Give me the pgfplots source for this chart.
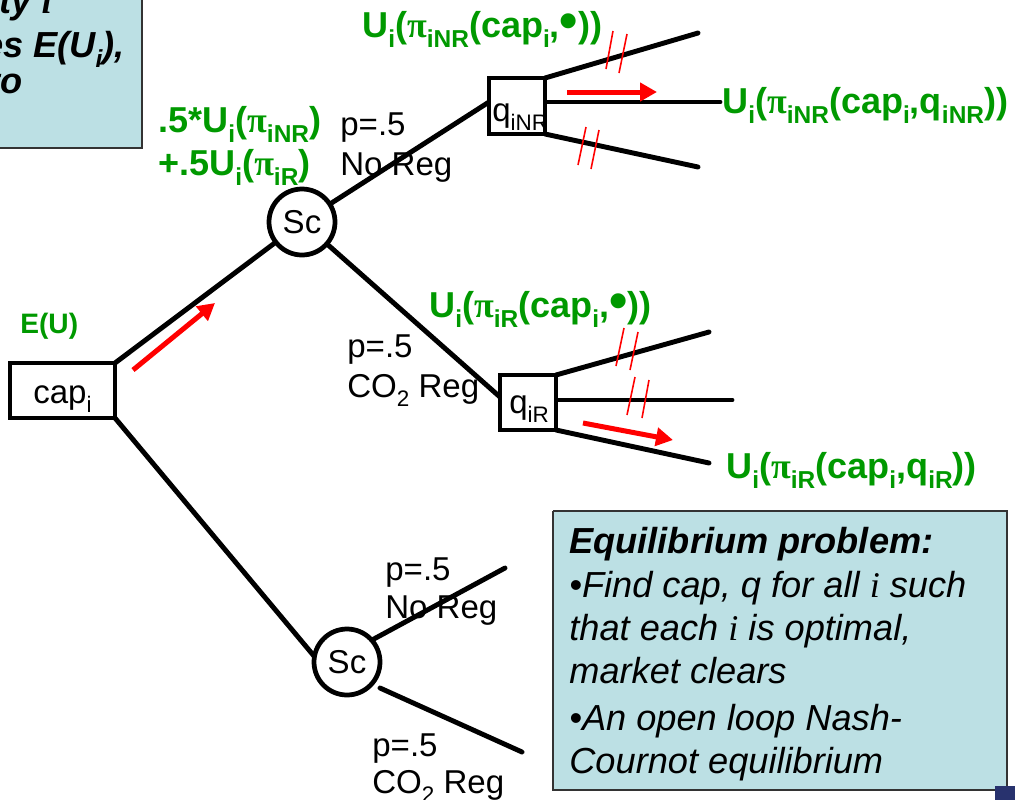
\documentclass[border=0pt]{standalone}
\usepackage{fontspec}
\setmainfont{Liberation Sans}
\newfontfamily\symf{Liberation Serif}
\usepackage{graphicx}
\usepackage{pgfplots}
\pgfplotsset{compat=1.18}
\usetikzlibrary{arrows.meta}

\definecolor{tgreen}{RGB}{0,153,0}
\definecolor{boxblue}{RGB}{188,224,228}
\definecolor{navybar}{RGB}{40,50,110}

% subscript, lowered and smaller
\newcommand\sub[1]{\raisebox{-.28em}{\scalebox{.68}{#1}}}
\newcommand\p{{\symf\upshape π}}
\newcommand\dotb{\raisebox{-.05em}{\scalebox{1.45}{\textbullet}}}
\newcommand\mi{{\symf\itshape i}}
\newcommand\gfont{\fontsize{20.5}{24}\selectfont\bfseries\color{tgreen}}
\newcommand\kfont{\fontsize{18.8}{22}\selectfont}
\newcommand\efont{\fontsize{20.6}{24.5}\selectfont\itshape}

\tikzset{
    tl/.style={black, line width=2.8pt, line cap=round},
    rarr/.style={red, line width=2.85pt, -{Triangle[length=0.34cm,width=0.36cm]}},
    hash/.style={red, line width=0.9pt},
    bx/.style={black, line width=2.7pt, fill=white, line join=miter},
    txt/.style={anchor=base west, inner sep=0pt},
    chance/.style={circle, draw, line width=2.7pt, fill=white, minimum size=1.32cm, inner sep=0pt, font=\kfont},
}

\begin{document}
\begin{tikzpicture}
\begin{axis}[
    scale only axis,
    width=20.3cm, height=16cm,
    xmin=0, xmax=1015, ymin=0, ymax=800,
    y dir=reverse,
    hide axis,
    clip=true,
]
% info boxes
\addplot[fill=boxblue, draw=black!80, line width=0.8pt] coordinates {(-20,-20) (142,-20) (142,148) (-20,148) (-20,-20)};
\addplot[fill=boxblue, draw=black!80, line width=0.8pt] coordinates {(553,511) (1007,511) (1007,790) (553,790) (553,511)};
\addplot[fill=navybar, draw=none] coordinates {(995,786) (1020,786) (1020,805) (995,805) (995,786)};

% tree branches
\addplot[tl] coordinates {(115,363) (276,242)};
\addplot[tl] coordinates {(115,418) (314,656)};
\addplot[tl] coordinates {(330,204) (489,102)};
\addplot[tl] coordinates {(327,244) (500,397)};
\addplot[tl] coordinates {(545,78) (698,33)};
\addplot[tl] coordinates {(545,102) (720,102)};
\addplot[tl] coordinates {(545,134) (698,167)};
\addplot[tl] coordinates {(556,375) (709,332)};
\addplot[tl] coordinates {(556,400) (732,400)};
\addplot[tl] coordinates {(556,430) (709,463)};
\addplot[tl] coordinates {(372,640) (505,568)};
\addplot[tl] coordinates {(380,688) (522,752)};

% decision boxes
\addplot[bx] coordinates {(10,363) (115,363) (115,418) (10,418) (10,363) (115,363)};
\addplot[bx] coordinates {(489,78) (545,78) (545,134) (489,134) (489,78) (545,78)};
\addplot[bx] coordinates {(500,375) (556,375) (556,430) (500,430) (500,375) (556,375)};

% chance nodes
\node[chance] at (axis cs:302,222) {Sc};
\node[chance] at (axis cs:347,662) {Sc};

% red arrows
\addplot[rarr] coordinates {(133,370) (215,303)};
\addplot[rarr] coordinates {(567,92) (657,92)};
\addplot[rarr] coordinates {(583,423) (673,440)};

% red hash marks
\addplot[hash] coordinates {(613,31) (606,69)};
\addplot[hash] coordinates {(627,34) (619,73)};
\addplot[hash] coordinates {(586,127) (578,165)};
\addplot[hash] coordinates {(599,130) (591,169)};
\addplot[hash] coordinates {(624,328) (616,366)};
\addplot[hash] coordinates {(638,332) (630,370)};
\addplot[hash] coordinates {(635,377) (627,415)};
\addplot[hash] coordinates {(649,380) (642,418)};

% box labels
\node[txt, font=\kfont] at (axis cs:33,403) {cap\sub{i}};
\node[txt, font=\kfont] at (axis cs:492,121) {q\sub{iNR}};
\node[txt, font=\kfont] at (axis cs:509,413) {q\sub{iR}};

% probabilities
\node[txt, font=\kfont] at (axis cs:340,135) {p=.5};
\node[txt, font=\kfont] at (axis cs:340,175) {No Reg};
\node[txt, font=\kfont] at (axis cs:347,357) {p=.5};
\node[txt, font=\kfont] at (axis cs:347,397) {CO\sub{2} Reg};
\node[txt, font=\kfont] at (axis cs:385,580) {p=.5};
\node[txt, font=\kfont] at (axis cs:385,618) {No Reg};
\node[txt, font=\kfont] at (axis cs:372,756) {p=.5};
\node[txt, font=\kfont] at (axis cs:372,793) {CO\sub{2} Reg};

% utilities (green)
\node[txt, font=\fontsize{16}{19}\selectfont\bfseries\color{tgreen}] at (axis cs:20,333) {E(U)};
\node[txt, font=\gfont] at (axis cs:158,132) {.5*U\sub{i}(\p\sub{iNR})};
\node[txt, font=\gfont] at (axis cs:158,175) {+.5U\sub{i}(\p\sub{iR})};
\node[txt, font=\gfont] at (axis cs:362,37) {U\sub{i}(\p\sub{iNR}(cap\sub{i},\dotb))};
\node[txt, font=\gfont] at (axis cs:722,113) {U\sub{i}(\p\sub{iNR}(cap\sub{i},q\sub{iNR}))};
\node[txt, font=\gfont] at (axis cs:429,317) {U\sub{i}(\p\sub{iR}(cap\sub{i},\dotb))};
\node[txt, font=\gfont] at (axis cs:726,478) {U\sub{i}(\p\sub{iR}(cap\sub{i},q\sub{iR}))};

% top-left box text (cut by the frame)
\node[anchor=base east, inner sep=0pt, font=\efont\bfseries] at (axis cs:52,13) {Each party {\symf\bfseries\itshape i}};
\node[anchor=base east, inner sep=0pt, font=\efont\bfseries] at (axis cs:125,57) {maximizes E(U\sub{i}),};
\node[anchor=base east, inner sep=0pt, font=\efont\bfseries] at (axis cs:23,93) {subject to};

% equilibrium box text
\node[txt, font=\efont\bfseries] at (axis cs:569,553) {Equilibrium problem:};
\node[txt, font=\efont] at (axis cs:569,597) {\textbullet Find cap, q for all \mi{} such};
\node[txt, font=\efont] at (axis cs:569,640) {that each \mi{} is optimal,};
\node[txt, font=\efont] at (axis cs:569,683) {market clears};
\node[txt, font=\efont] at (axis cs:569,730) {\textbullet An open loop Nash-};
\node[txt, font=\efont] at (axis cs:569,773) {Cournot equilibrium};
\end{axis}
\pgfresetboundingbox
\path (current axis.south west) rectangle (current axis.north east);
\end{tikzpicture}
\end{document}
